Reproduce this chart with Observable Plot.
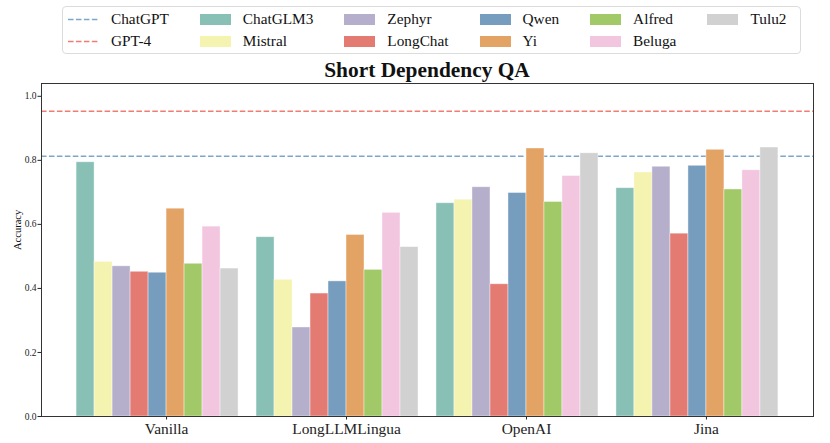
<!DOCTYPE html>
<html>
<head>
<meta charset="utf-8">
<script src="https://cdn.jsdelivr.net/npm/d3@7"></script>
<script src="https://cdn.jsdelivr.net/npm/@observablehq/plot@0.6"></script>
<style>
  html, body { margin: 0; padding: 0; background: #fff; }
  #wrap { position: relative; width: 830px; height: 443px; font-family: "Liberation Serif", "Times New Roman", serif; color: #111; }
  #legend { position: absolute; left: 62px; top: 6px; width: 739px; height: 48px; box-sizing: border-box;
    border: 1px solid #dcdcdc; border-radius: 4px; padding: 1px 0 0 5px; display: grid;
    grid-template-rows: 22px 22px; grid-auto-flow: column; justify-content: start; column-gap: 31px; font-size: 15.3px; background: #fff; }
  .item { display: flex; align-items: center; white-space: nowrap; }
  .sw { width: 31px; height: 11px; margin-right: 12px; flex: none; display: block; }
  #title { position: absolute; left: 41px; width: 772px; top: 60px; text-align: center; font-weight: bold; font-size: 21.4px; line-height: 21.4px; }
  #chart { position: absolute; left: 0; top: 0; }
</style>
</head>
<body>
<div id="wrap">
  <div id="chart"></div>
  <div id="legend"></div>
  <div id="title"></div>
</div>
<script>
const titleText = "Short Dependency QA";
const groups = ["Vanilla", "LongLLMLingua", "OpenAI", "Jina"];
const models = ["ChatGLM3", "Mistral", "Zephyr", "LongChat", "Qwen", "Yi", "Alfred", "Beluga", "Tulu2"];
const modelColors = ["#89c0b6", "#f4f3af", "#b5afcc", "#e37b73", "#779dbe", "#e3a364", "#a2c967", "#f2c6df", "#d1d1d1"];
const vanilla       = [0.794, 0.483, 0.469, 0.452, 0.449, 0.649, 0.477, 0.593, 0.462];
const longllmlingua = [0.560, 0.427, 0.278, 0.384, 0.422, 0.567, 0.458, 0.636, 0.529];
const openai        = [0.666, 0.677, 0.716, 0.413, 0.698, 0.837, 0.670, 0.751, 0.822];
const jina          = [0.713, 0.762, 0.780, 0.571, 0.783, 0.833, 0.709, 0.769, 0.840];
const refNames = ["ChatGPT", "GPT-4"];
const refValues = [0.813, 0.953];
const refColors = ["#7ea6ca", "#ef7d72"];
const yTicks = [0, 0.2, 0.4, 0.6, 0.8, 1.0];
const yLabel = "Accuracy";
const barWidth = 0.1;
const dash = "5.55,2.4";

const groupValues = [vanilla, longllmlingua, openai, jina];
const rows = [];
groupValues.forEach((vals, gi) => {
  vals.forEach((v, mi) => {
    const x1 = gi + (mi - 5) * barWidth;
    rows.push({group: groups[gi], model: models[mi], value: v, x1, x2: x1 + barWidth});
  });
});
const refs = refNames.map((n, i) => ({name: n, value: refValues[i], color: refColors[i]}));

const chart = Plot.plot({
  width: 830,
  height: 443,
  marginTop: 83,
  marginBottom: 27,
  marginLeft: 41,
  marginRight: 17,
  style: {fontFamily: '"Liberation Serif", "Times New Roman", serif', background: "transparent", color: "#222"},
  x: {domain: [-0.695, 3.595]},
  y: {domain: [0, 1.04]},
  color: {domain: models, range: modelColors},
  marks: [
    Plot.ruleY(refs, {y: "value", stroke: "color", strokeWidth: 1.5, strokeDasharray: dash}),
    Plot.rect(rows, {x1: "x1", x2: "x2", y1: 0, y2: "value", fill: "model", stroke: "white", strokeWidth: 0.8, strokeOpacity: 0.5}),
    Plot.axisY({ticks: yTicks, tickFormat: d3.format(".1f"), tickSize: 3.5, tickPadding: 1.5, fontSize: 9.5, label: null}),
    Plot.axisX({ticks: [0, 1, 2, 3], tickFormat: i => groups[i], tickSize: 3.5, tickPadding: 3.5, fontSize: 15.4, label: null}),
    Plot.text([yLabel], {text: d => d, frameAnchor: "left", dx: -24, rotate: -90, fontSize: 10.5, fill: "#111"}),
    Plot.frame({stroke: "#333", strokeWidth: 1})
  ]
});
document.getElementById("chart").appendChild(chart);
document.getElementById("title").textContent = titleText;

// legend (column-major, two rows)
const legend = document.getElementById("legend");
const entries = [
  ...refs.map(r => ({name: r.name, color: r.color, line: true})),
  ...models.map((m, i) => ({name: m, color: modelColors[i], line: false}))
];
entries.forEach(e => {
  const item = document.createElement("div");
  item.className = "item";
  let sw;
  if (e.line) {
    sw = document.createElementNS("http://www.w3.org/2000/svg", "svg");
    sw.setAttribute("class", "sw");
    sw.setAttribute("width", 31); sw.setAttribute("height", 11);
    const ln = document.createElementNS("http://www.w3.org/2000/svg", "line");
    ln.setAttribute("x1", 0); ln.setAttribute("x2", 31);
    ln.setAttribute("y1", 5.5); ln.setAttribute("y2", 5.5);
    ln.setAttribute("stroke", e.color); ln.setAttribute("stroke-width", 1.5);
    ln.setAttribute("stroke-dasharray", dash);
    sw.appendChild(ln);
  } else {
    sw = document.createElement("span");
    sw.className = "sw";
    sw.style.background = e.color;
  }
  const label = document.createElement("span");
  label.textContent = e.name;
  item.appendChild(sw);
  item.appendChild(label);
  legend.appendChild(item);
});
</script>
</body>
</html>
